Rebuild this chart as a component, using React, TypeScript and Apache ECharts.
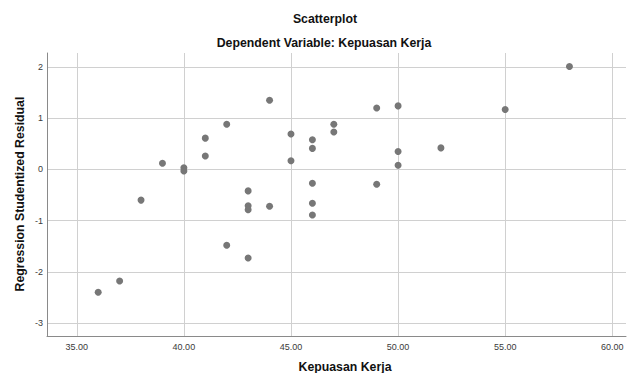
import React, { useEffect, useRef } from "react";
import * as echarts from "echarts";

const titleText = "Scatterplot";
const subtitleText = "Dependent Variable: Kepuasan Kerja";
const xAxisName = "Kepuasan Kerja";
const yAxisName = "Regression Studentized Residual";

const kepuasanKerja = [
  36, 37, 38, 39, 40, 40, 41, 41, 42, 42, 43, 43, 43, 43, 44, 44, 45, 45,
  46, 46, 46, 46, 46, 47, 47, 49, 49, 50, 50, 50, 52, 55, 58,
];
const studentizedResidual = [
  -2.4, -2.18, -0.6, 0.12, 0.03, -0.03, 0.61, 0.26, 0.88, -1.48, -0.42, -0.71,
  -0.79, -1.73, 1.35, -0.72, 0.69, 0.17, 0.58, 0.41, -0.27, -0.66, -0.89, 0.88,
  0.73, 1.2, -0.29, 1.24, 0.35, 0.08, 0.42, 1.17, 2.01,
];

const FONT = "'Liberation Sans', Arial, sans-serif";

export default function App() {
  const ref = useRef<HTMLDivElement>(null);
  useEffect(() => {
    if (!ref.current) return;
    const chart = echarts.init(ref.current, null, { renderer: "svg" });
    const points = kepuasanKerja.map((x, i) => [x, studentizedResidual[i]]);
    chart.setOption({
      animation: false,
      textStyle: { fontFamily: FONT },
      grid: { left: 47, right: 1, top: 53, bottom: 37, containLabel: false },
      xAxis: {
        type: "value",
        min: 33.61,
        max: 60.64,
        splitNumber: 5,
        axisLine: { show: true, onZero: false, lineStyle: { color: "#8a8a8a", width: 1 } },
        axisTick: { show: false },
        axisLabel: {
          showMinLabel: false,
          showMaxLabel: false,
          fontSize: 9,
          color: "#3a3a3a",
          margin: 6,
          fontFamily: FONT,
          formatter: (v: number) => v.toFixed(2),
        },
        splitLine: {
          show: true,
          showMinLine: false,
          showMaxLine: false,
          lineStyle: { color: "#d0d0d0", width: 1 },
        },
      },
      yAxis: {
        type: "value",
        min: -3.254,
        max: 2.273,
        splitNumber: 5,
        axisLine: { show: true, onZero: false, lineStyle: { color: "#8a8a8a", width: 1 } },
        axisTick: { show: false },
        axisLabel: {
          showMinLabel: false,
          showMaxLabel: false,
          fontSize: 9,
          color: "#3a3a3a",
          margin: 4,
          fontFamily: FONT,
          formatter: (v: number) => String(Math.round(v)),
        },
        splitLine: {
          show: true,
          showMinLine: false,
          showMaxLine: false,
          lineStyle: { color: "#d0d0d0", width: 1 },
        },
      },
      graphic: [
        {
          type: "text",
          x: 325,
          y: 19,
          style: {
            text: titleText,
            font: `bold 12.3px ${FONT}`,
            fill: "#111",
            textAlign: "center",
            textVerticalAlign: "middle",
          },
        },
        {
          type: "text",
          x: 324,
          y: 42.5,
          style: {
            text: subtitleText,
            font: `bold 12.3px ${FONT}`,
            fill: "#111",
            textAlign: "center",
            textVerticalAlign: "middle",
          },
        },
        {
          type: "text",
          x: 345,
          y: 367,
          style: {
            text: xAxisName,
            font: `bold 12.3px ${FONT}`,
            fill: "#111",
            textAlign: "center",
            textVerticalAlign: "middle",
          },
        },
        {
          type: "text",
          x: 20,
          y: 194,
          rotation: Math.PI / 2,
          style: {
            text: yAxisName,
            font: `bold 12.3px ${FONT}`,
            fill: "#111",
            textAlign: "center",
            textVerticalAlign: "middle",
          },
        },
      ],
      series: [
        {
          type: "scatter",
          data: points,
          symbol: "circle",
          symbolSize: 7,
          itemStyle: { color: "#777777", opacity: 1 },
        },
      ],
    });
    return () => chart.dispose();
  }, []);
  return (
    <div
      ref={ref}
      style={{ position: "fixed", left: 0, top: 0, width: 627, height: 373, background: "#fff" }}
    />
  );
}
